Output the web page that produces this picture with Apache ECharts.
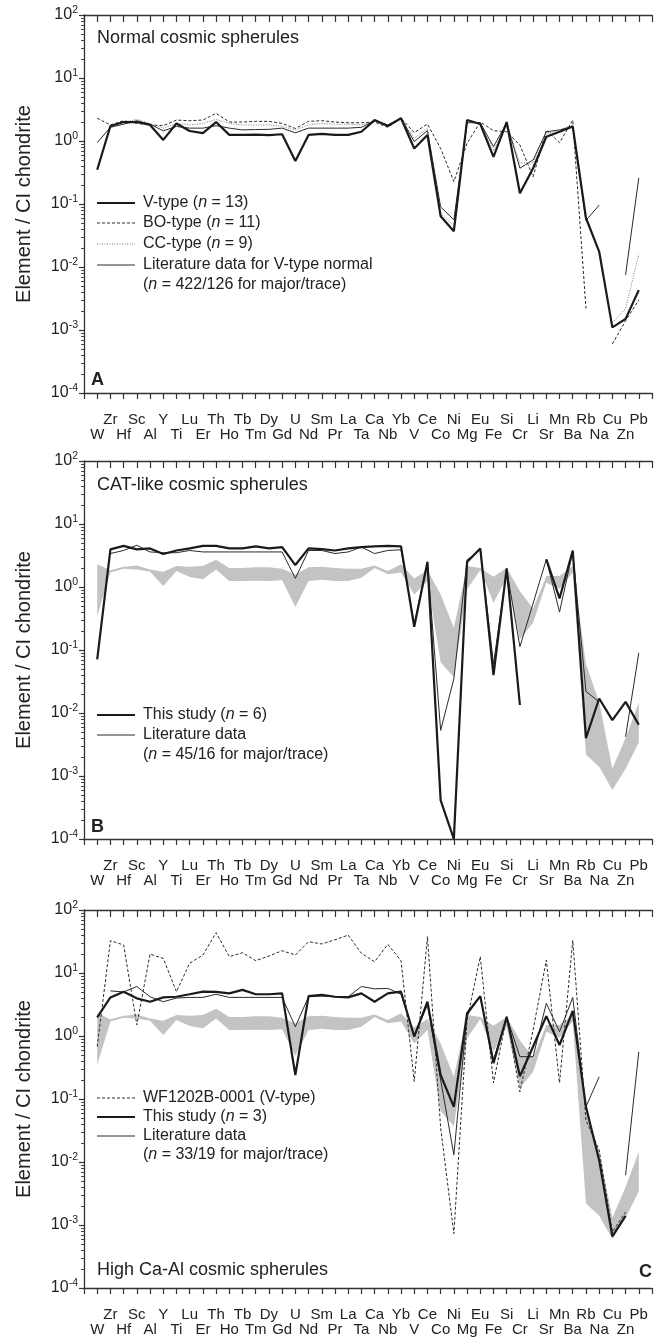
<!DOCTYPE html>
<html>
<head>
<meta charset="utf-8">
<script src="https://cdn.jsdelivr.net/npm/echarts@6/dist/echarts.min.js"></script>
<style>
html, body { margin: 0; padding: 0; background: #fff; }
#chart { width: 655px; height: 1341px; }
</style>
</head>
<body>
<div id="chart"></div>
<script>
const elements = ['W','Zr','Hf','Sc','Al','Y','Ti','Lu','Er','Th','Ho','Tb','Tm','Dy','Gd','U','Nd','Sm','Pr','La',
  'Ta','Ca','Nb','Yb','V','Ce','Co','Ni','Mg','Eu','Fe','Si','Cr','Li','Sr','Mn','Ba','Rb','Na','Cu','Zn','Pb'];

// panel A: normal cosmic spherules
const vTypeA = [0.35, 1.73, 2.0, 2.0, 1.8, 1.04, 1.9, 1.44, 1.33, 2.0,
  1.25, 1.25, 1.26, 1.24, 1.28, 0.48, 1.25, 1.3, 1.25, 1.25,
  1.4, 2.15, 1.73, 2.3, 0.76, 1.25, 0.064, 0.037, 2.15, 1.86,
  0.56, 2.0, 0.148, 0.37, 1.17, 1.4, 1.7, 0.06, 0.0176, 0.0011,
  0.0015, 0.0043];
const boTypeA = [2.3, 1.8, 2.1, 1.9, 1.8, 1.75, 2.15, 2.1, 2.15, 2.75,
  2.0, 2.0, 2.05, 2.05, 1.9, 1.58, 2.05, 2.1, 2.0, 1.95,
  1.95, 2.0, 1.65, 2.3, 1.36, 1.86, 0.76, 0.226, 0.92, 2.0,
  1.46, 1.4, 0.86, 0.27, 1.5, 0.94, 2.15, 0.0022, null, 0.0006,
  0.0014, 0.003];
const ccTypeA = [null, 1.7, 2.0, 2.2, 1.9, 1.6, 1.9, 1.8, 1.9, 2.2,
  1.9, 1.8, 1.8, 1.8, 1.7, 1.5, 1.8, 1.9, 1.85, 1.85,
  1.8, 2.1, 1.75, 2.3, 1.1, 1.6, 0.07, 0.045, 2.0, 1.9,
  0.7, 1.9, 0.45, 0.45, 1.3, 1.5, 1.8, null, null, 0.0013,
  0.0022, 0.016];
const literatureA = [0.94, 1.65, 1.85, 2.1, 1.85, 1.45, 1.7, 1.6, 1.6, 1.75,
  1.6, 1.5, 1.52, 1.53, 1.6, 1.35, 1.6, 1.6, 1.6, 1.6,
  1.65, 2.1, 1.8, 2.3, 0.98, 1.46, 0.09, 0.056, 1.95, 1.95,
  0.81, 1.95, 0.37, 0.5, 1.4, 1.5, 1.7, 0.055, 0.096, null,
  0.0075, 0.26];

// grey field of normal spherules (panels B and C)
const bandLow = [0.35, 1.7, 1.95, 1.9, 1.75, 1.04, 1.8, 1.44, 1.33, 1.9,
  1.25, 1.25, 1.26, 1.24, 1.28, 0.48, 1.25, 1.3, 1.25, 1.25,
  1.4, 2.0, 1.6, 1.7, 0.76, 1.25, 0.064, 0.037, 0.92, 1.86,
  0.56, 1.4, 0.148, 0.27, 1.17, 0.94, 1.7, 0.0022, 0.0014, 0.0006,
  0.0013, 0.0034];
const bandHigh = [2.3, 1.85, 2.1, 2.2, 1.9, 1.75, 2.15, 2.1, 2.15, 2.7,
  2.0, 2.0, 2.05, 2.05, 1.95, 1.58, 2.05, 2.1, 2.0, 1.95,
  1.95, 2.2, 1.8, 2.3, 1.36, 1.86, 0.76, 0.226, 2.15, 2.0,
  1.46, 2.0, 0.86, 0.45, 1.5, 1.5, 2.15, 0.06, 0.015, 0.0013,
  0.004, 0.0145];

// panel B: CAT-like cosmic spherules
const studyB = [0.071, 3.96, 4.5, 3.96, 4.1, 3.34, 3.8, 4.1, 4.5, 4.5,
  4.1, 4.1, 4.4, 4.1, 4.3, 2.23, 4.1, 4.0, 3.8, 4.1,
  4.3, 4.4, 4.5, 4.4, 0.234, 2.5, 0.00041, 0.0001, 2.5, 4.1,
  0.04, 1.98, 0.0134, null, 2.75, 0.66, 3.8, 0.004, 0.017, 0.0077,
  0.015, 0.0065];
const literatureB = [null, 3.4, 3.8, 4.6, 3.6, 3.5, 3.5, 3.8, 3.6, 3.6,
  3.6, 3.6, 3.6, 3.6, 3.6, 1.37, 3.8, 3.8, 3.4, 3.6,
  4.3, 3.4, 3.8, 3.9, 0.26, 2.5, 0.0053, 0.035, 2.7, 3.9,
  0.06, 1.86, 0.113, 0.55, 2.75, 0.4, 3.6, 0.022, 0.015, null,
  0.0042, 0.09];

// panel C: high Ca-Al cosmic spherules
const wf1202C = [0.68, 32.6, 27.8, 1.5, 20, 17, 5.05, 14.3, 19.3, 43.6,
  18.2, 21, 15.7, 18.6, 22.6, 19.3, 31.4, 28.9, 33.7, 40,
  20.5, 15.1, 28.5, 15.7, 0.19, 37.8, 0.035, 0.00073, 1.8, 18.2,
  0.18, 2.07, 0.13, 1.25, 16, 0.18, 33, 0.046, 0.0155, 0.00078,
  0.0016, null];
const studyC = [1.98, 4.1, 5.05, 3.96, 3.5, 4.1, 4.2, 4.6, 5.05, 5.0,
  4.75, 5.4, 4.6, 4.6, 4.75, 0.24, 4.3, 4.5, 4.2, 4.1,
  4.75, 3.5, 4.75, 5.05, 0.98, 3.5, 0.24, 0.075, 2.3, 4.3,
  0.37, 2.0, 0.23, 0.68, 2.07, 0.72, 2.5, 0.075, 0.0107, 0.00066,
  0.0014, null];
const literatureC = [null, 5.2, 5.0, 6.1, 4.2, 3.5, 4.0, 4.1, 4.1, 4.6,
  4.1, 4.1, 4.1, 4.1, 4.1, 1.4, 4.2, 4.3, 4.2, 4.2,
  6.1, 5.6, 5.7, 4.6, 1.0, 3.1, 0.2, 0.013, 2.15, 4.2,
  0.42, 2.0, 0.47, 0.47, 3.3, 1.17, 4.1, 0.075, 0.226, null,
  0.0062, 0.56];

const FONT = '"Liberation Sans", Arial, sans-serif';
const INK = '#222';
const panelTops = [15, 461, 910];
const PANEL_H = 378;
const AXIS_X = 84;

// minor ticks 2..9 in each decade
const minorTicks = [];
for (let d = -4; d < 2; d++) {
  for (let m = 2; m <= 9; m++) minorTicks.push(m * Math.pow(10, d));
}

const STYLES = {
  thick: { width: 2.2, color: '#1a1a1a', type: 'solid' },
  thin: { width: 1, color: '#2a2a2a', type: 'solid' },
  dashed: { width: 1, color: '#2a2a2a', type: [3, 2] },
  dotted: { width: 1, color: '#777', type: [1, 1.5] }
};

const grid = [], xAxis = [], yAxis = [], series = [];

panelTops.forEach((top, p) => {
  grid.push({ left: AXIS_X, top: top, width: 573.3, height: PANEL_H });
  xAxis.push({
    type: 'value', gridIndex: p, min: 0, max: 43, interval: 1, position: 'bottom',
    axisLine: { onZero: false, lineStyle: { color: '#333', width: 1.3 } },
    axisTick: { inside: false, length: 6, lineStyle: { color: '#333', width: 1.2 } },
    splitLine: { show: false },
    axisLabel: {
      margin: 19, fontSize: 15, lineHeight: 15, color: INK, fontFamily: FONT,
      formatter: function (v) {
        const i = Math.round(v) - 1;
        if (i < 0 || i >= elements.length) return '';
        return i % 2 === 0 ? ' \n' + elements[i] : elements[i] + '\n ';
      }
    }
  });
  xAxis.push({
    type: 'value', gridIndex: p, min: 0, max: 43, interval: 1, position: 'top',
    axisLine: { onZero: false, lineStyle: { color: '#333', width: 1.3 } },
    axisTick: { inside: true, length: 7, lineStyle: { color: '#333', width: 1.2 } },
    splitLine: { show: false },
    axisLabel: { show: false }
  });
  yAxis.push({
    type: 'log', logBase: 10, gridIndex: p, min: 0.0001, max: 100, position: 'left',
    name: 'Element / CI chondrite', nameLocation: 'middle', nameGap: 50,
    nameTextStyle: { fontSize: 20, color: INK, fontFamily: FONT },
    axisLine: { show: true, lineStyle: { color: '#333', width: 1.3 } },
    axisTick: { inside: false, length: 5, lineStyle: { color: '#333', width: 1.2 } },
    splitLine: { show: false },
    axisLabel: {
      margin: 6,
      formatter: function (v) { return '{b|10}{s|' + Math.round(Math.log10(v)) + '}'; },
      rich: {
        b: { fontSize: 16, color: INK, fontFamily: FONT, lineHeight: 20 },
        s: { fontSize: 10.5, color: INK, fontFamily: FONT, verticalAlign: 'top', lineHeight: 12 }
      }
    }
  });
});

function lineSeries(p, values, style, z) {
  return {
    type: 'line', xAxisIndex: 2 * p, yAxisIndex: p, z: z || 3,
    symbol: 'none', silent: true, connectNulls: false,
    lineStyle: STYLES[style],
    data: values.map((v, i) => [i + 1, v == null ? '-' : v])
  };
}

function bandSeries(p) {
  return {
    type: 'custom', xAxisIndex: 2 * p, yAxisIndex: p, z: 1, silent: true,
    data: [[1, 1]],
    renderItem: function (params, api) {
      const upper = bandHigh.map((v, i) => api.coord([i + 1, v]));
      const lower = bandLow.map((v, i) => api.coord([i + 1, v])).reverse();
      return { type: 'polygon', shape: { points: upper.concat(lower) }, style: { fill: '#c3c3c3' } };
    }
  };
}

series.push(lineSeries(0, literatureA, 'thin'));
series.push(lineSeries(0, ccTypeA, 'dotted'));
series.push(lineSeries(0, boTypeA, 'dashed'));
series.push(lineSeries(0, vTypeA, 'thick', 4));

series.push(bandSeries(1));
series.push(lineSeries(1, literatureB, 'thin'));
series.push(lineSeries(1, studyB, 'thick', 4));

series.push(bandSeries(2));
series.push(lineSeries(2, literatureC, 'thin'));
series.push(lineSeries(2, wf1202C, 'dashed'));
series.push(lineSeries(2, studyC, 'thick', 4));

// titles, panel letters and legends
const graphic = [];
function label(x, y, text, opts) {
  graphic.push({
    type: 'text', x: x, y: y, silent: true,
    style: Object.assign({
      text: text, fontSize: 16, fontFamily: FONT, fill: INK, verticalAlign: 'middle',
      rich: { i: { fontStyle: 'italic', fontSize: 16, fontFamily: FONT, fill: INK } }
    }, opts || {})
  });
}
function key(y, style) {
  const s = STYLES[style];
  graphic.push({
    type: 'line', silent: true,
    shape: { x1: 97, y1: y, x2: 135, y2: y },
    style: { stroke: s.color, lineWidth: s.width, lineDash: s.type === 'solid' ? null : s.type }
  });
}

label(97, 38, 'Normal cosmic spherules', { fontSize: 18 });
label(97, 485, 'CAT-like cosmic spherules', { fontSize: 18 });
label(97, 1270, 'High Ca-Al cosmic spherules', { fontSize: 18 });
label(91, 380, 'A', { fontSize: 18, fontWeight: 'bold' });
label(91, 827, 'B', { fontSize: 18, fontWeight: 'bold' });
label(652, 1272, 'C', { fontSize: 18, fontWeight: 'bold', align: 'right' });

key(203, 'thick'); label(143, 203, 'V-type ({i|n} = 13)');
key(223, 'dashed'); label(143, 223, 'BO-type ({i|n} = 11)');
key(244, 'dotted'); label(143, 244, 'CC-type ({i|n} = 9)');
key(265, 'thin'); label(143, 265, 'Literature data for V-type normal');
label(143, 285, '({i|n} = 422/126 for major/trace)');

key(715, 'thick'); label(143, 715, 'This study ({i|n} = 6)');
key(735, 'thin'); label(143, 735, 'Literature data');
label(143, 755, '({i|n} = 45/16 for major/trace)');

key(1098, 'dashed'); label(143, 1098, 'WF1202B-0001 (V-type)');
key(1117, 'thick'); label(143, 1117, 'This study ({i|n} = 3)');
key(1136, 'thin'); label(143, 1136, 'Literature data');
label(143, 1155, '({i|n} = 33/19 for major/trace)');

const chart = echarts.init(document.getElementById('chart'));
chart.setOption({
  animation: false,
  backgroundColor: '#fff',
  textStyle: { fontFamily: FONT },
  grid: grid,
  xAxis: xAxis,
  yAxis: yAxis,
  series: series,
  graphic: graphic
});

// minor log ticks on the left axes, placed through each axis's own scale
panelTops.forEach((top, p) => {
  minorTicks.forEach(v => {
    const y = Math.round(chart.convertToPixel({ yAxisIndex: p }, v)) + 0.5;
    graphic.push({
      type: 'line', silent: true,
      shape: { x1: AXIS_X - 3, y1: y, x2: AXIS_X, y2: y },
      style: { stroke: '#333', lineWidth: 0.9 }
    });
  });
});
chart.setOption({ graphic: graphic });
</script>
</body>
</html>
